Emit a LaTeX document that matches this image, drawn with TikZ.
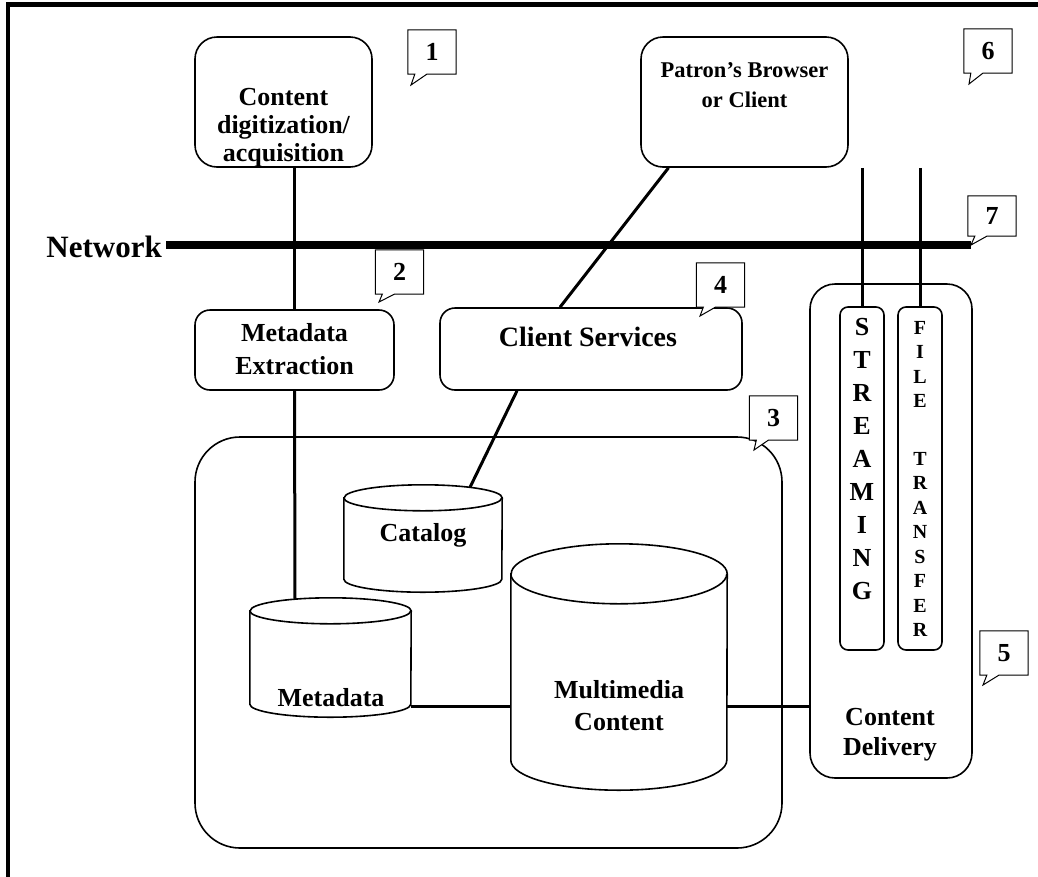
\documentclass[tikz,border=0pt]{standalone}
\usepackage{fontspec}
\setmainfont{Liberation Serif}

\tikzset{
  box/.style={draw, line width=1.6pt, rounded corners=22pt, inner sep=0pt},
  lbl/.style={font=\bfseries\fontsize{26}{30}\selectfont, align=center, inner sep=0pt},
  dbframe/.style={inner sep=0pt},
  dbline/.style={line width=1.6pt, fill=white},
  column/.style={draw, line width=1.6pt, rounded corners=8pt, minimum width=44pt, minimum height=343pt, inner sep=0pt},
  callnum/.style={font=\bfseries\fontsize{26}{30}\selectfont, minimum width=48pt, minimum height=44pt, inner sep=0pt},
  callout/.style={line width=1pt, fill=white},
  wire/.style={line width=3pt}
}

\begin{document}
\begin{tikzpicture}[x=1pt,y=-1pt]
\useasboundingbox (0,0) rectangle (1038,876);
\clip (0,0) rectangle (1038,876);
% frame
\draw [line width=4.5pt] (8,900) -- (8,4.5) -- (1060,4.5);

% boxes
\node [box, minimum width=177pt, minimum height=130pt] (content) at (283.5,102) {};
\node [lbl, font=\bfseries\fontsize{26}{28}\selectfont] (contentlbl) at (283.5,128) {Content\\digitization/\\acquisition};
\node [box, minimum width=207pt, minimum height=130pt] (patron) at (744.5,102) {};
\node [lbl, font=\bfseries\fontsize{22.5}{30}\selectfont] (patronlbl) at (744.5,85) {Patron’s Browser\\or Client};
\node [box, rounded corners=15pt, minimum width=199pt, minimum height=80pt] (metaext) at (294.5,350) {};
\node [lbl, font=\bfseries\fontsize{26}{33}\selectfont] (metaextlbl) at (294.5,349) {Metadata\\Extraction};
\node [box, rounded corners=15pt, minimum width=302pt, minimum height=82pt] (clientsvc) at (591,349) {};
\node [lbl, font=\bfseries\fontsize{28}{30}\selectfont] (clientsvclbl) at (588,337) {Client Services};
\node [box, rounded corners=45pt, minimum width=587pt, minimum height=411pt] (repo) at (488.5,642.5) {};
\node [box, rounded corners=25pt, minimum width=162pt, minimum height=494pt] (delivery) at (891,531) {};
\node [lbl] (deliverylbl) at (890,735) {Content\\Delivery};

% streaming / file transfer
\node [column] (stream) at (862,478.5) {};
\node [lbl, font=\bfseries\fontsize{26}{33}\selectfont] (streamlbl) at (862,459) {S\\T\\R\\E\\A\\M\\I\\N\\G};
\node [column] (ftp) at (920,478.5) {};
\node [lbl, font=\bfseries\fontsize{20}{24.5}\selectfont] (ftplbl) at (920,479) {F\\I\\L\\E\\[33pt]T\\R\\A\\N\\S\\F\\E\\R};

% databases
\node [dbframe, minimum width=158pt, minimum height=107pt] (catalog) at (423,538.5) {};
\draw [dbline] ([yshift=-13pt]catalog.north west) -- ([yshift=13pt]catalog.south west) arc [start angle=180, end angle=360, x radius=79pt, y radius=13pt] -- ([yshift=-13pt]catalog.north east) arc [start angle=0, end angle=180, x radius=79pt, y radius=13pt] -- cycle;
\draw [dbline, fill=none] ([yshift=-13pt]catalog.north west) arc [start angle=180, end angle=360, x radius=79pt, y radius=13pt];
\node [lbl] (cataloglbl) at (423,535) {Catalog};

\node [dbframe, minimum width=216pt, minimum height=246pt] (multi) at (619,667) {};
\draw [dbline] ([yshift=-30pt]multi.north west) -- ([yshift=30pt]multi.south west) arc [start angle=180, end angle=360, x radius=108pt, y radius=30pt] -- ([yshift=-30pt]multi.north east) arc [start angle=0, end angle=180, x radius=108pt, y radius=30pt] -- cycle;
\draw [dbline, fill=none] ([yshift=-30pt]multi.north west) arc [start angle=180, end angle=360, x radius=108pt, y radius=30pt];
\node [lbl, font=\bfseries\fontsize{26}{32}\selectfont] (multilbl) at (619,706) {Multimedia\\Content};

\node [dbframe, minimum width=161pt, minimum height=119pt] (metadb) at (330.5,657.5) {};
\draw [dbline] ([yshift=-13pt]metadb.north west) -- ([yshift=13pt]metadb.south west) arc [start angle=180, end angle=360, x radius=80.5pt, y radius=13pt] -- ([yshift=-13pt]metadb.north east) arc [start angle=0, end angle=180, x radius=80.5pt, y radius=13pt] -- cycle;
\draw [dbline, fill=none] ([yshift=-13pt]metadb.north west) arc [start angle=180, end angle=360, x radius=80.5pt, y radius=13pt];
\node [lbl] (metadblbl) at (331,698) {Metadata};

% network
\node [lbl, font=\bfseries\fontsize{31}{36}\selectfont, anchor=east] (netlbl) at (162,247) {Network};
\coordinate (netend) at (971,245);
\draw [line width=8pt] ([xshift=4pt]netlbl.east |- netend) -- (netend);

% connectors
\coordinate (bus) at (0,706);
\draw [wire] (metaext.north |- content.south) -- (metaext.north);
\draw [wire] (metaext.south) -- ([xshift=-35.5pt,yshift=-2pt]metadb.north);
\draw [wire] ([xshift=-76pt]patron.south) -- ([xshift=-31pt]clientsvc.north);
\draw [wire] ([xshift=-74pt]clientsvc.south) -- ([xshift=47pt,yshift=-2.5pt]catalog.north);
\draw [wire] (metadb.east |- bus) -- (multi.west |- bus);
\draw [wire] (multi.east |- bus) -- (delivery.west |- bus);
\draw [wire] (stream.north |- patron.south) -- (stream.north);
\draw [wire] (ftp.north |- patron.south) -- (ftp.north);

% callouts
\node [callnum] (n1) at (432,52) {};
\draw [callout] (n1.north west) -- (n1.north east) -- (n1.south east) -- ([xshift=19pt]n1.south west) -- (411,85) -- ([xshift=7pt]n1.south west) -- (n1.south west) -- cycle;
\node [callnum] at (n1) {1};
\node [callnum] (n2) at (399.5,272) {};
\draw [callout] (n2.north west) -- (n2.north east) -- (n2.south east) -- ([xshift=19pt]n2.south west) -- (379,302) -- ([xshift=7pt]n2.south west) -- (n2.south west) -- cycle;
\node [callnum] at (n2) {2};
\node [callnum] (n3) at (773.5,418) {};
\draw [callout] (n3.north west) -- (n3.north east) -- (n3.south east) -- ([xshift=19pt]n3.south west) -- (754,450) -- ([xshift=7pt]n3.south west) -- (n3.south west) -- cycle;
\node [callnum] at (n3) {3};
\node [callnum] (n4) at (720.5,285) {};
\draw [callout] (n4.north west) -- (n4.north east) -- (n4.south east) -- ([xshift=19pt]n4.south west) -- (700,316) -- ([xshift=7pt]n4.south west) -- (n4.south west) -- cycle;
\node [callnum] at (n4) {4};
\node [callnum] (n5) at (1004,653) {};
\draw [callout] (n5.north west) -- (n5.north east) -- (n5.south east) -- ([xshift=19pt]n5.south west) -- (983,685) -- ([xshift=7pt]n5.south west) -- (n5.south west) -- cycle;
\node [callnum] at (n5) {5};
\node [callnum] (n6) at (988,51) {};
\draw [callout] (n6.north west) -- (n6.north east) -- (n6.south east) -- ([xshift=19pt]n6.south west) -- (969,84) -- ([xshift=7pt]n6.south west) -- (n6.south west) -- cycle;
\node [callnum] at (n6) {6};
\node [callnum, minimum height=40pt] (n7) at (992,216) {};
\draw [callout] (n7.north west) -- (n7.north east) -- (n7.south east) -- ([xshift=19pt]n7.south west) -- (netend) -- ([xshift=7pt]n7.south west) -- (n7.south west) -- cycle;
\node [callnum] at (n7) {7};
\end{tikzpicture}
\end{document}
